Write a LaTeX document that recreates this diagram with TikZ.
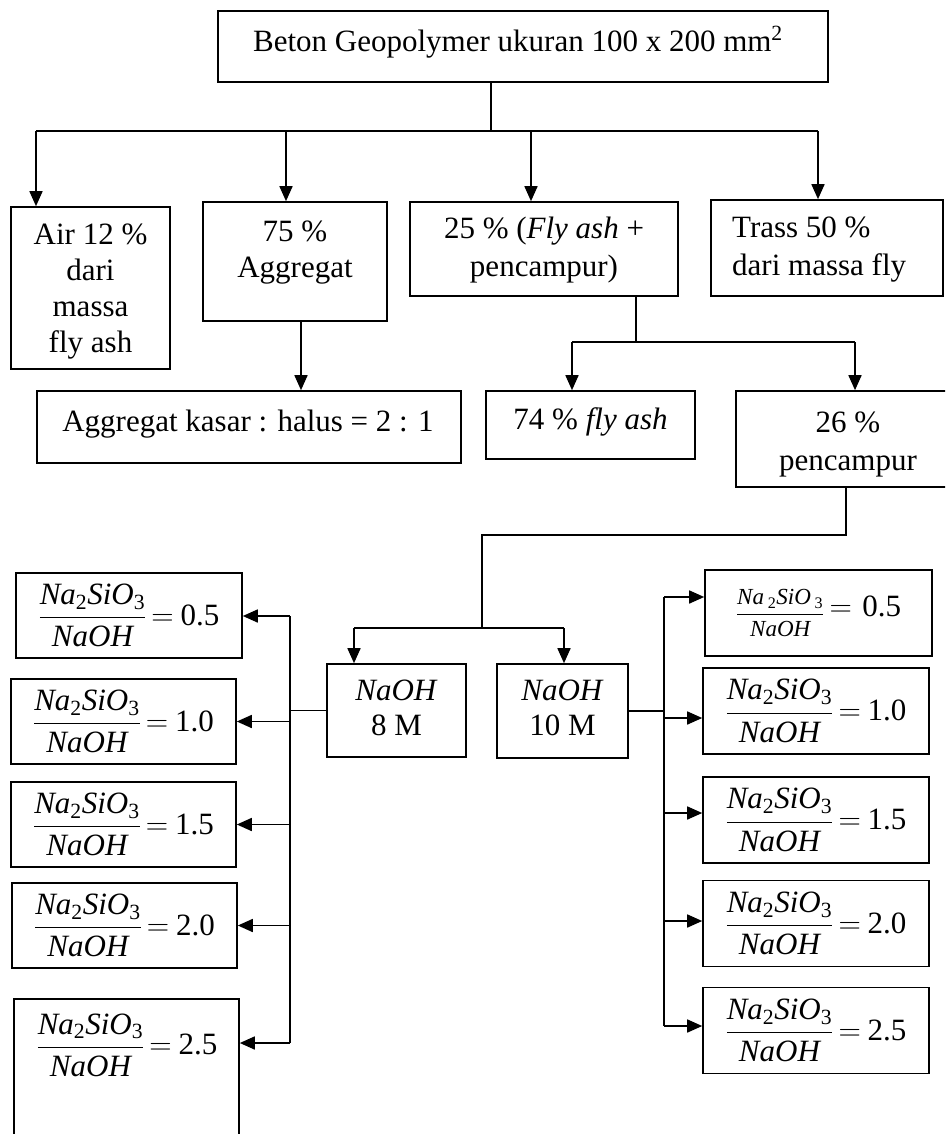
\RequirePackage{fix-cm}
\documentclass[tikz,border=0pt]{standalone}
\usepackage{fontspec}
\setmainfont{Liberation Serif}
\usepackage{amsmath}
\usetikzlibrary{arrows.meta}
\newcommand{\ratio}[1]{$\dfrac{\text{\itshape Na}_{\text{2}}\text{\itshape SiO}_{\text{3}}}{\text{\itshape NaOH}}\mkern3mu{=}\mkern4mu\text{#1}$}
\newcommand{\ratiosmall}[1]{{\fontsize{23}{27}\selectfont$\dfrac{\text{\itshape Na}\,_{\text{2}}\text{\itshape SiO}\,_{\text{3}}}{\text{\itshape NaOH}}$}\raisebox{4pt}{$\mkern3mu{=}\mkern6mu$#1}}
\tikzset{
  box/.style={draw, line width=1.6pt, inner sep=0pt, align=center},
  conn/.style={line width=1.6pt},
  arr/.style={conn, -{Triangle[length=15pt,width=13pt]}},
  txt/.style={inner sep=0pt, align=center},
  every node/.style={font=\fontsize{31}{36}\selectfont}
}
\begin{document}
\begin{tikzpicture}[x=1pt,y=-1pt]
\useasboundingbox (0,0) rectangle (945,1134);
\clip (0,0) rectangle (945,1134);
\fill[white] (0,0) rectangle (945,1134);

% top level
\node[box, minimum width=610pt, minimum height=71pt] (top) at (523,46.5) {};
\node[txt] (topt) at (518,42) {Beton Geopolymer ukuran 100 x 200 mm\textsuperscript{2}};

% second level
\node[box, minimum width=159pt, minimum height=162pt] (air) at (90.5,288) {};
\node[txt, font=\fontsize{31}{36}\selectfont] (airt) at (90.5,292) {Air 12 \%\\dari\\massa\\fly ash};
\node[box, minimum width=184pt, minimum height=119pt] (agg) at (295,261.5) {};
\node[txt] (aggt) at (295,253) {75 \%\\Aggregat};
\node[box, minimum width=268pt, minimum height=94pt] (fa) at (544,249) {};
\node[txt, font=\fontsize{31}{38}\selectfont] (fat) at (544,250) {25 \% (\textit{Fly ash} +\\pencampur)};
\node[box, minimum width=232pt, minimum height=96pt] (trass) at (827,248) {};
\node[txt, align=left, anchor=west, font=\fontsize{31}{38}\selectfont] (trasst) at (732,250) {Trass 50 \%\\dari massa fly};

% third level
\node[box, minimum width=424pt, minimum height=72pt] (aggk) at (249,427) {};
\node[txt] (aggkt) at (248,424) {Aggregat kasar : halus = 2 : 1};
\node[box, minimum width=209pt, minimum height=68pt] (fly) at (590.5,425) {};
\node[txt] (flyt) at (590.5,422) {74 \% \textit{fly ash}};
\node[box, minimum width=224pt, minimum height=96pt] (pc) at (848,439) {};
\node[txt, font=\fontsize{31}{38}\selectfont] (pct) at (848,444) {26 \%\\pencampur};

% NaOH
\node[box, minimum width=139pt, minimum height=93pt] (m8) at (396.5,710.5) {};
\node[txt, font=\fontsize{31}{35}\selectfont] (m8t) at (396.5,708) {\textit{NaOH}\\8 M};
\node[box, minimum width=131pt, minimum height=94pt] (m10) at (562.5,711) {};
\node[txt, font=\fontsize{31}{35}\selectfont] (m10t) at (562.5,708) {\textit{NaOH}\\10 M};

% left ratios
\node[box, minimum width=226pt, minimum height=85pt] (L1) at (129,615.5) {\ratio{0.5}};
\node[box, minimum width=225pt, minimum height=85pt] (L2) at (123.5,721.5) {\ratio{1.0}};
\node[box, minimum width=225pt, minimum height=85pt] (L3) at (123.5,824.5) {\ratio{1.5}};
\node[box, minimum width=225pt, minimum height=85pt] (L4) at (124.5,925.5) {\ratio{2.0}};
\node[box, minimum width=225pt, minimum height=140pt] (L5) at (126.5,1069) {};
\node[txt] (L5t) at (127,1045) {\ratio{2.5}};

% right ratios
\node[box, minimum width=227pt, minimum height=86pt] (R1) at (818.5,613) {\ratiosmall{0.5}};
\node[box, minimum width=226pt, minimum height=86pt] (R2) at (816,711) {\ratio{1.0}};
\node[box, minimum width=226pt, minimum height=86pt] (R3) at (816,820) {\ratio{1.5}};
\node[box, minimum width=226pt, minimum height=86pt] (R4) at (816,923.5) {\ratio{2.0}};
\node[box, minimum width=226pt, minimum height=86pt] (R5) at (816,1030.5) {\ratio{2.5}};

% connectors: top bus
\coordinate (b0) at (491,131);
\coordinate (bA) at (36,131);
\coordinate (bB) at (286,131);
\coordinate (bC) at (531,131);
\coordinate (bD) at (818,131);
\draw[conn] (top.south -| b0) -- (b0);
\draw[conn] (bA) -- (bD);
\draw[arr] (bA) -- (air.north -| bA);
\draw[arr] (bB) -- (agg.north -| bB);
\draw[arr] (bC) -- (fa.north -| bC);
\draw[arr] (bD) -- (trass.north -| bD);

% aggregate
\coordinate (xa) at (301,330);
\draw[arr] (agg.south -| xa) -- (aggk.north -| xa);

% fly ash split
\coordinate (j1) at (636,342);
\coordinate (j1l) at (572,342);
\coordinate (j1r) at (855,342);
\draw[conn] (fa.south -| j1) -- (j1);
\draw[conn] (j1l) -- (j1r);
\draw[arr] (j1l) -- (fly.north -| j1l);
\draw[arr] (j1r) -- (pc.north -| j1r);

% pencampur to NaOH
\coordinate (j2) at (846,535);
\coordinate (j2l) at (482,535);
\coordinate (j3) at (482,628);
\coordinate (j3l) at (354,628);
\coordinate (j3r) at (564,628);
\draw[conn] (pc.south -| j2) -- (j2) -- (j2l) -- (j3);
\draw[conn] (j3l) -- (j3r);
\draw[arr] (j3l) -- (m8.north -| j3l);
\draw[arr] (j3r) -- (m10.north -| j3r);

% left bus
\coordinate (lt) at (290,616);
\coordinate (lb) at (290,1043);
\draw[conn] (m8.west) -- (m8.west -| lt);
\draw[conn] (lt) -- (lb);
\draw[arr] (lt) -- (L1.east |- lt);
\draw[arr] (L2.east -| lt) -- (L2.east);
\draw[arr] (L3.east -| lt) -- (L3.east);
\draw[arr] (L4.east -| lt) -- (L4.east);
\draw[arr] (lb) -- (L5.east |- lb);

% right bus
\coordinate (r1) at (664,597);
\coordinate (r2) at (664,718);
\coordinate (r3) at (664,813);
\coordinate (r4) at (664,921);
\coordinate (r5) at (664,1026);
\draw[conn] (m10.east) -- (m10.east -| r1);
\draw[conn] (r1) -- (r5);
\draw[arr] (r1) -- (R1.west |- r1);
\draw[arr] (r2) -- (R2.west |- r2);
\draw[arr] (r3) -- (R3.west |- r3);
\draw[arr] (r4) -- (R4.west |- r4);
\draw[arr] (r5) -- (R5.west |- r5);
\end{tikzpicture}
\end{document}
